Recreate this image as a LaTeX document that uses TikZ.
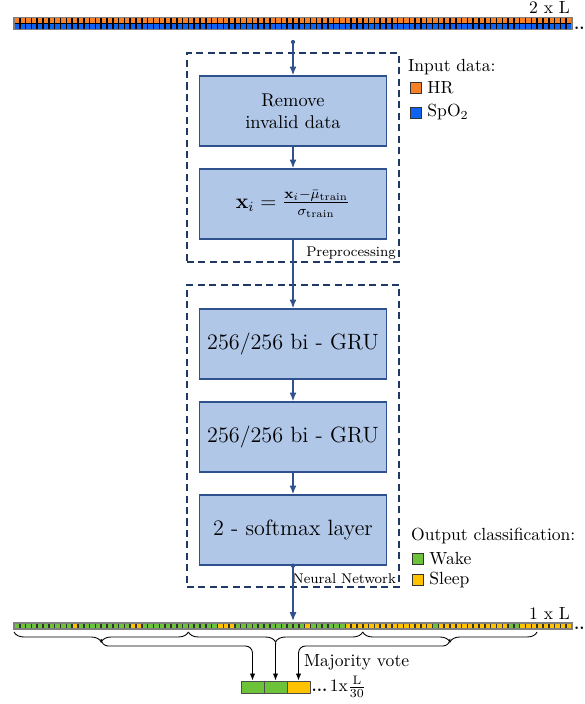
\documentclass[tikz,border=0pt]{standalone}
\usepackage{amsmath,amsfonts,amssymb}
\usepackage{tikz}
\usepackage{xcolor}
\usetikzlibrary{arrows.meta,decorations.pathreplacing}

\definecolor{boxfill}{RGB}{176,199,232}
\definecolor{boxedge}{RGB}{47,82,143}
\definecolor{navy}{RGB}{32,56,100}
\definecolor{hrcol}{RGB}{245,128,40}
\definecolor{spocol}{RGB}{16,98,240}
\definecolor{wakecol}{RGB}{108,194,56}
\definecolor{sleepcol}{RGB}{255,194,0}

\begin{document}
\begin{tikzpicture}
      \useasboundingbox(0,0) rectangle (11.68,14.08);
      \tikzset{B/.style = {shape=rectangle, draw=boxedge, fill=boxfill, line width=0.8pt, minimum width=3.74cm, minimum height=1.4cm, align=center, text=black}}
      \tikzset{BL/.style = {B, font=\fontsize{12.6}{15}\selectfont}}
      \tikzset{G/.style = {shape=rectangle, draw=navy, line width=1.1pt, dash pattern=on 4pt off 2.5pt}}
      \tikzset{E/.style = {draw=boxedge, line width=0.8pt, -{Latex[length=5pt,width=4pt]}}}
      \tikzset{K/.style = {shape=rectangle, draw=black!80, minimum size=0.22cm, inner sep=0pt}}
      \tikzset{T/.style = {anchor=west, inner sep=1pt, text=black}}
      \tikzset{C/.style = {shape=rectangle, draw=black!70, minimum width=0.46cm, minimum height=0.24cm, inner sep=0pt, line width=0.5pt}}
      \tikzset{V/.style = {draw=black, line width=0.5pt, -{Latex[length=4pt,width=3pt]}}}
      %% input sequence
      \filldraw[fill=black, draw=gray, line width=0.8pt] (0.28,13.49) rectangle (11.44,13.73);
      \foreach \i in {0,...,95}{
        \fill[hrcol] (0.295+0.11625*\i,13.625) rectangle ++(0.086,0.09);
        \fill[spocol] (0.295+0.11625*\i,13.505) rectangle ++(0.086,0.09);
      }
      \node[anchor=south east, inner sep=1pt](nin) at (11.44,13.76) {2 x L};
      \node[anchor=base west, inner sep=0.5pt, font=\small](din) at (11.46,13.49) {\textbf{..}};
      %% preprocessing
      \node[G, minimum width=4.24cm, minimum height=4.18cm](pre) at (5.86,10.93) {};
      \node[anchor=south east, inner sep=1pt, font=\footnotesize](lpre) at (7.96,8.86) {Preprocessing};
      \node[B, font=\fontsize{10.5}{12.6}\selectfont](rm) at (5.86,11.86) {Remove\\invalid data};
      \node[B, font=\large](nm) at (5.86,10.0) {$\mathbf{x}_i = \frac{\mathbf{x}_i-\bar{\mu}_{\text{train}}}{\sigma_{\text{train}}}$};
      %% network
      \node[G, minimum width=4.24cm, minimum height=6.04cm](nn) at (5.86,5.36) {};
      \node[anchor=south east, inner sep=1pt, font=\footnotesize](lnn) at (7.96,2.36) {Neural Network};
      \node[BL](g1) at (5.86,7.2) {256/256 bi - GRU};
      \node[BL](g2) at (5.86,5.34) {256/256 bi - GRU};
      \node[BL](sm) at (5.86,3.48) {2 - softmax layer};
      \coordinate (in) at (5.86,13.24);
      \coordinate (out) at (5.86,1.66);
      \fill[boxedge] (in) circle (1.2pt);
      \fill[boxedge] (sm.south) circle (1.2pt);
      \draw[E](in) to (rm);
      \draw[E](rm) to (nm);
      \draw[E](nm) to (g1);
      \draw[E](g1) to (g2);
      \draw[E](g2) to (sm);
      \draw[E](sm) to (out);
      %% legends
      \node[T](lin) at (8.12,12.74) {Input data:};
      \node[K, fill=hrcol](khr) at (8.31,12.32) {};
      \node[T](thr) at ([xshift=0.08cm]khr.east) {HR};
      \node[K, fill=spocol](kspo) at (8.31,11.83) {};
      \node[T](tspo) at ([xshift=0.08cm]kspo.east) {SpO$_2$};
      \node[T](lout) at (8.18,3.36) {Output classification:};
      \node[K, fill=wakecol](kw) at (8.35,2.91) {};
      \node[T](tw) at ([xshift=0.08cm]kw.east) {Wake};
      \node[K, fill=sleepcol](ks) at (8.35,2.48) {};
      \node[T](ts) at ([xshift=0.08cm]ks.east) {Sleep};
      %% output sequence
      \filldraw[fill=black!80, draw=gray, line width=0.8pt] (0.28,1.50) rectangle (11.44,1.62);
      \foreach \i in {0,...,95}
        \fill[wakecol] (0.295+0.11625*\i,1.515) rectangle ++(0.086,0.09);
      \foreach \a/\b in {10/10,20/21,35/37,50/50,57/71,73/84,87/95}
        \foreach \i in {\a,...,\b}
          \fill[sleepcol] (0.295+0.11625*\i,1.515) rectangle ++(0.086,0.09);
      \node[anchor=south east, inner sep=1pt](nout) at (11.44,1.64) {1 x L};
      \node[anchor=base west, inner sep=0.5pt, font=\small](dout) at (11.46,1.49) {\textbf{..}};
      %% majority vote
      \foreach \k in {0,1,2}{
        \draw[decorate, decoration={brace, mirror, amplitude=0.2cm}, line width=0.5pt] (0.28+3.4875*\k,1.44) -- (3.7675+3.4875*\k,1.44);
        \coordinate (t\k) at (2.02375+3.4875*\k,1.23);
      }
      \node[C, fill=wakecol](v0) at (5.05,0.34) {};
      \node[C, fill=wakecol](v1) at (5.51,0.34) {};
      \node[C, fill=sleepcol](v2) at (5.97,0.34) {};
      \draw[V, rounded corners=4pt](t0) -- ++(0,-0.07) -| (v0.north);
      \draw[V](t1) to (v1.north);
      \draw[V, rounded corners=4pt](t2) -- ++(0,-0.07) -| (v2.north);
      \node[anchor=west, inner sep=1pt](mv) at (6.04,0.84) {Majority vote};
      \node[anchor=base west, inner sep=0.5pt, font=\small](dv) at (6.21,0.25) {\textbf{...}};
      \node[anchor=base west, inner sep=0.5pt](nv) at (dv.base east) {1x$\frac{\mathrm{L}}{30}$};
    \end{tikzpicture}
\end{document}
